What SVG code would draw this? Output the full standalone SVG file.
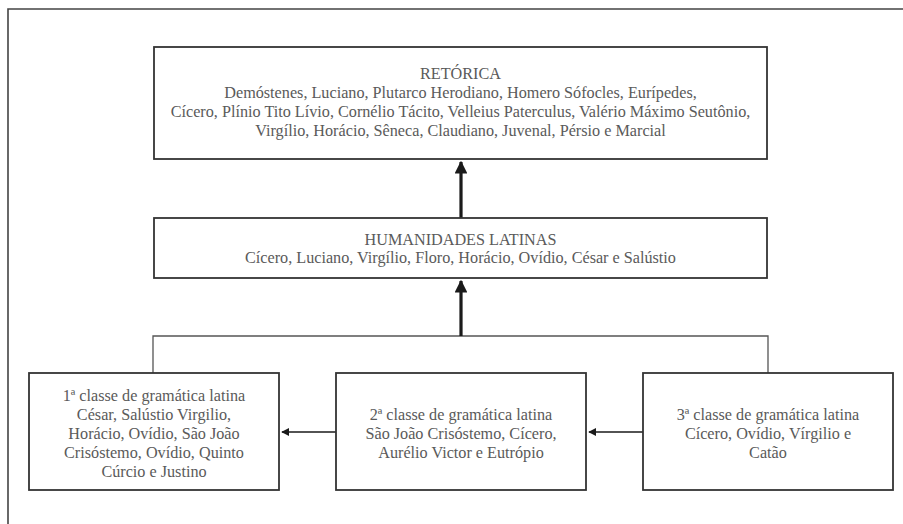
<svg xmlns="http://www.w3.org/2000/svg" width="903" height="524" viewBox="0 0 903 524">
<style>
.box{fill:#fff;stroke:#333;stroke-width:1.8}
.t{font-family:"Liberation Serif","Times New Roman",serif;font-size:16.2px;fill:#5a5a5a;text-anchor:middle}
.bus{fill:none;stroke:#555;stroke-width:1.3}
.up{fill:none;stroke:#1a1a1a;stroke-width:3.2}
.side{fill:none;stroke:#1a1a1a;stroke-width:1.6}
</style>
<defs>
<marker id="bigHead" viewBox="0 0 10 10" refX="9" refY="5" markerWidth="4" markerHeight="4" orient="auto" markerUnits="strokeWidth">
<path d="M0,0 L10,5 L0,10 z" fill="#1a1a1a"/>
</marker>
<marker id="smallHead" viewBox="0 0 10 10" refX="9" refY="5" markerWidth="5" markerHeight="5" orient="auto" markerUnits="strokeWidth">
<path d="M0,0 L10,5 L0,10 z" fill="#1a1a1a"/>
</marker>
</defs>
<rect width="903" height="524" fill="#fff"/>
<path d="M8,524 V9 H903" fill="none" stroke="#444" stroke-width="1.6"/>

<g id="connectors">
<path class="bus" d="M153,373 V336 H768 V373"/>
<path class="up" d="M461,336 V281" marker-end="url(#bigHead)"/>
<path class="up" d="M461,218 V162" marker-end="url(#bigHead)"/>
<path class="side" d="M336,432 H282" marker-end="url(#smallHead)"/>
<path class="side" d="M643,432 H589" marker-end="url(#smallHead)"/>
</g>

<g id="retorica">
<rect class="box" x="154" y="47" width="613" height="112"/>
<text class="t" x="460.5" y="79">RETÓRICA</text>
<text class="t" x="460.5" y="98">Demóstenes, Luciano, Plutarco Herodiano, Homero Sófocles, Eurípedes,</text>
<text class="t" x="460.5" y="117">Cícero, Plínio Tito Lívio, Cornélio Tácito, Velleius Paterculus, Valério Máximo Seutônio,</text>
<text class="t" x="460.5" y="136">Virgílio, Horácio, Sêneca, Claudiano, Juvenal, Pérsio e Marcial</text>
</g>

<g id="humanidades">
<rect class="box" x="154" y="218" width="613" height="60"/>
<text class="t" x="460.5" y="245">HUMANIDADES LATINAS</text>
<text class="t" x="460.5" y="263">Cícero, Luciano, Virgílio, Floro, Horácio, Ovídio, César e Salústio</text>
</g>

<g id="classe1">
<rect class="box" x="29" y="373" width="250" height="117"/>
<text class="t" x="154" y="401">1ª classe de gramática latina</text>
<text class="t" x="154" y="420">César, Salústio Virgilio,</text>
<text class="t" x="154" y="439">Horácio, Ovídio, São João</text>
<text class="t" x="154" y="458">Crisóstemo, Ovídio, Quinto</text>
<text class="t" x="154" y="477">Cúrcio e Justino</text>
</g>

<g id="classe2">
<rect class="box" x="336" y="373" width="250" height="117"/>
<text class="t" x="461" y="420">2ª classe de gramática latina</text>
<text class="t" x="461" y="439">São João Crisóstemo, Cícero,</text>
<text class="t" x="461" y="458">Aurélio Victor e Eutrópio</text>
</g>

<g id="classe3">
<rect class="box" x="643" y="373" width="250" height="117"/>
<text class="t" x="768" y="420">3ª classe de gramática latina</text>
<text class="t" x="768" y="439">Cícero, Ovídio, Vírgilio e</text>
<text class="t" x="768" y="458">Catão</text>
</g>
</svg>
